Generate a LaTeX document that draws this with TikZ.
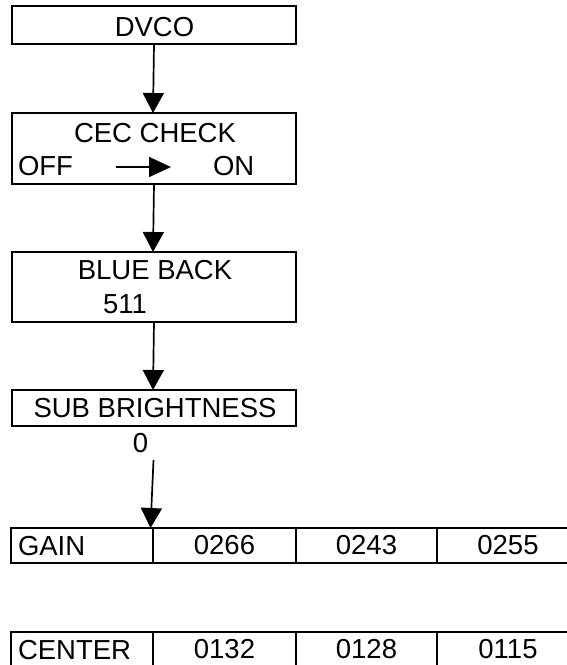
\documentclass[tikz,border=0pt]{standalone}
\usepackage{fontspec}
\setmainfont{Liberation Sans}
\usetikzlibrary{arrows.meta}
\begin{document}
\begin{tikzpicture}[x=1pt,y=-1pt,
  box/.style={draw, line width=1.9pt, minimum width=284pt, inner sep=0pt, outer sep=0pt},
  cell/.style={draw, line width=1.9pt, minimum height=35pt, inner sep=0pt, outer sep=0pt,
    font=\fontsize{27.5}{32}\selectfont},
  lbl/.style={font=\fontsize{27.5}{32}\selectfont, inner sep=0pt, outer sep=0pt},
  flow/.style={line width=1.7pt, -{Triangle[length=20pt,width=21pt]}},
  small/.style={line width=1.7pt, -{Triangle[length=22pt,width=20pt]}}
]
\useasboundingbox (0,0) rectangle (566,665);

% boxes
\node[box, minimum height=38pt] (dvco) at (154,25) {};
\node[lbl, anchor=base] (dvcot) at (154.5,36) {DVCO};

\node[box, minimum height=71pt] (cec) at (154,148.5) {};
\node[lbl, anchor=base] (cect) at (155,142) {CEC CHECK};
\node[lbl, anchor=base west] (off) at (18,175) {OFF};
\node[lbl, anchor=base west] (on) at (213,175) {ON};
\coordinate (ia) at (116,167);
\coordinate (ib) at (171,167);
\draw[small] (ia) -- (ib);

\node[box, minimum height=70pt] (blue) at (154,287) {};
\node[lbl, anchor=base] (bluet) at (155,279) {BLUE BACK};
\node[lbl, anchor=base west] (bval) at (103,313) {511};

\node[box, minimum height=36pt] (sub) at (154,408) {};
\node[lbl, anchor=base] (subt) at (155,417) {SUB BRIGHTNESS};
\node[lbl, anchor=base] (zero) at (140.5,452) {0};

% tables
\node[cell, minimum width=142pt] (gain) at (82,545.5) {};
\node[lbl, anchor=base west] (gaint) at (18,555) {GAIN};
\node[cell, minimum width=143pt] (g1) at (224.5,545.5) {0266};
\node[cell, minimum width=141pt] (g2) at (366.5,545.5) {0243};
\node[cell, minimum width=142pt] (g3) at (508,545.5) {0255};

\node[cell, minimum width=142pt] (center) at (82,649.5) {};
\node[lbl, anchor=base west] (centert) at (18,659) {CENTER};
\node[cell, minimum width=143pt] (c1) at (224.5,649.5) {0132};
\node[cell, minimum width=141pt] (c2) at (366.5,649.5) {0128};
\node[cell, minimum width=142pt] (c3) at (508,649.5) {0115};

% connectors
\draw[flow] (dvco.south) -- ([xshift=-1pt]cec.north);
\draw[flow] (cec.south) -- ([xshift=-1pt]blue.north);
\draw[flow] (blue.south) -- ([xshift=-1pt]sub.north);
\coordinate (zs) at (153.5,460);
\draw[flow] (zs) -- ([xshift=-2.5pt]gain.north east);
\end{tikzpicture}
\end{document}
